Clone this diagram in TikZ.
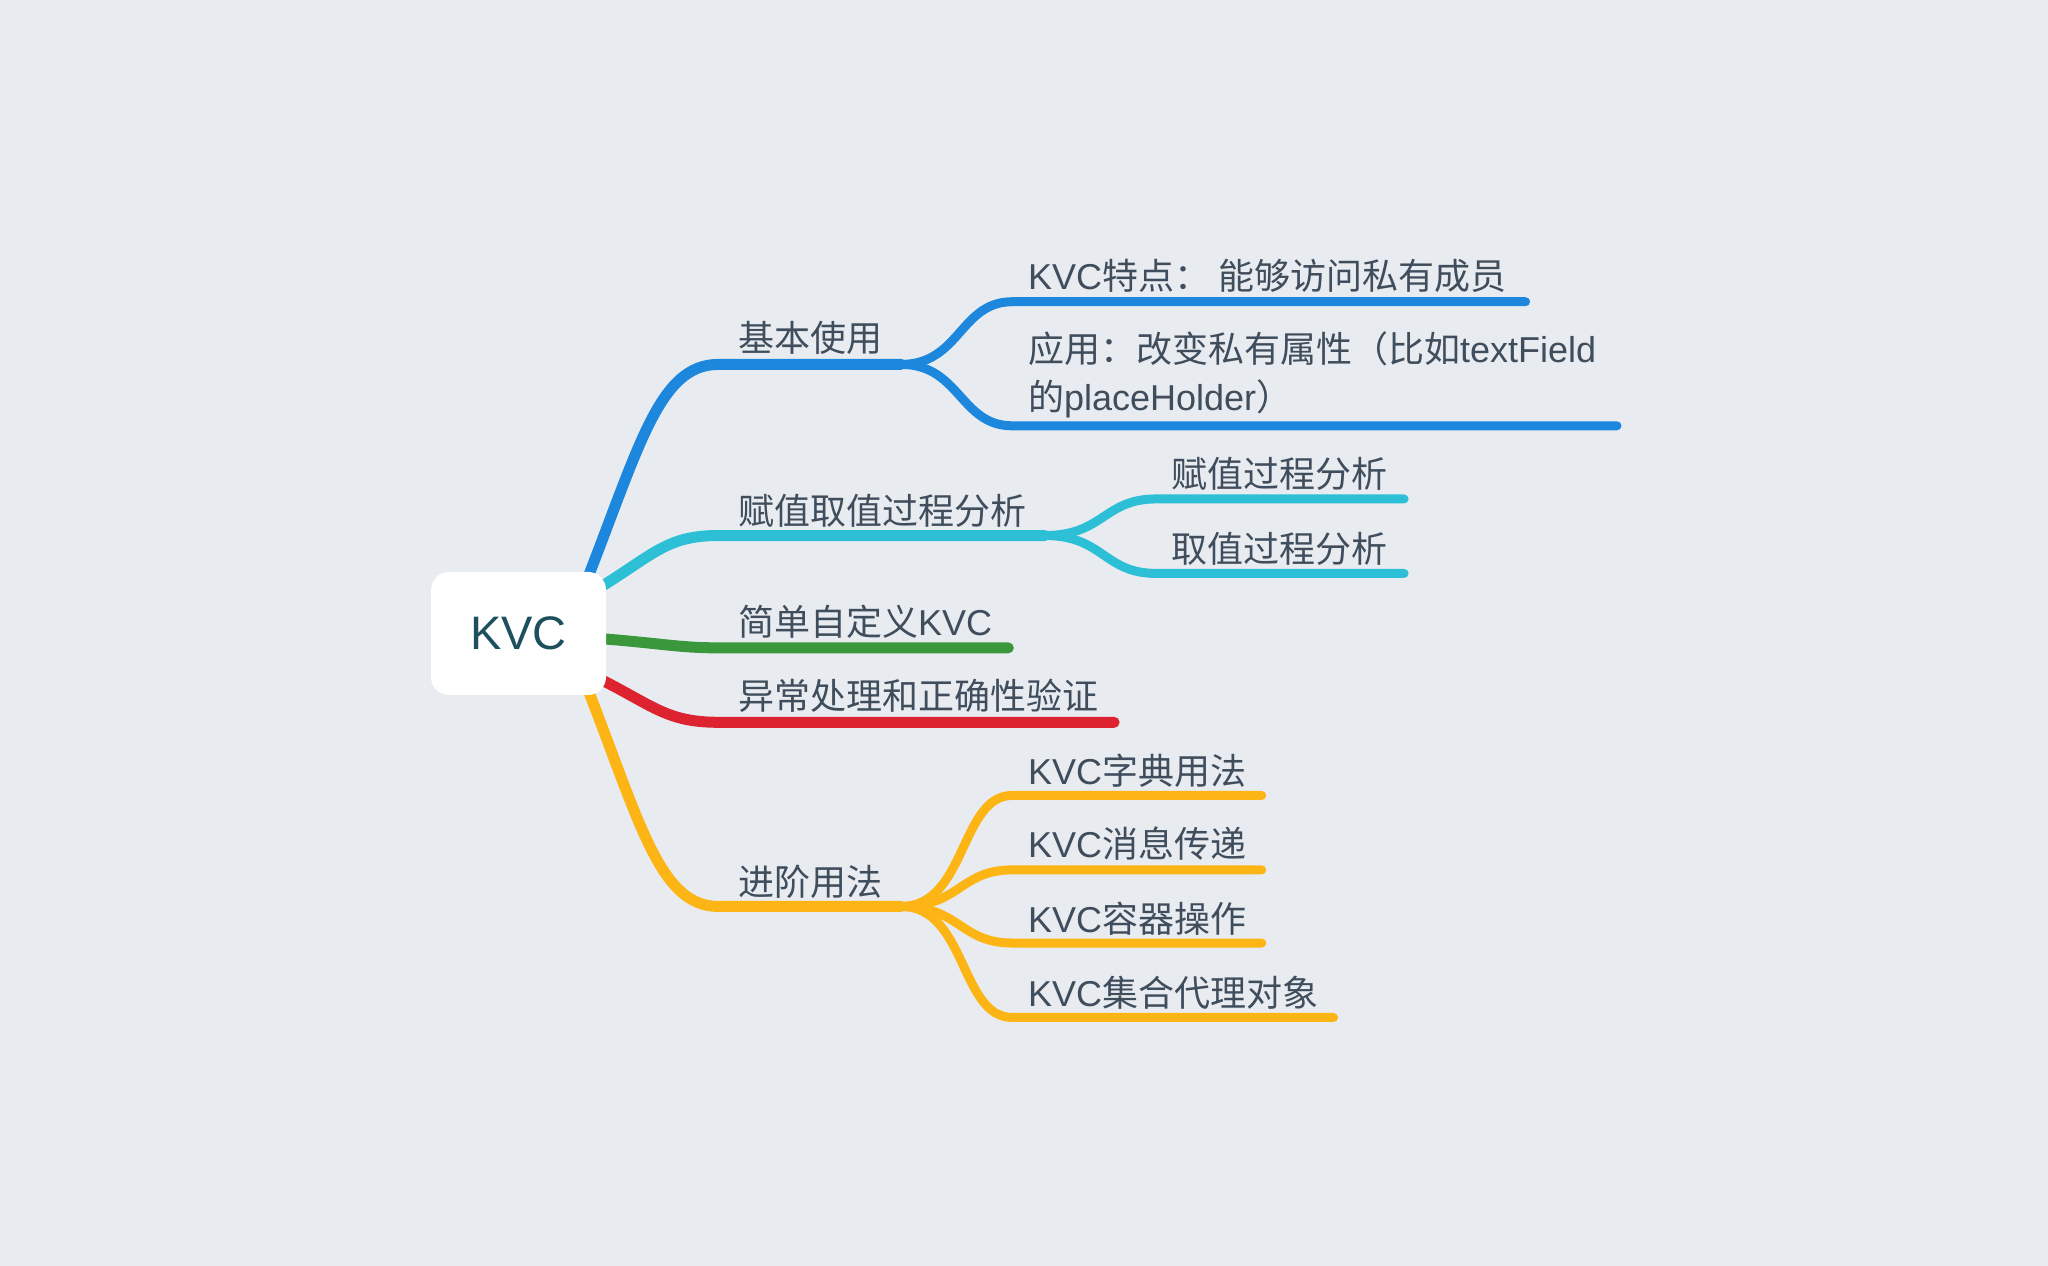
\documentclass[tikz,border=0pt]{standalone}
\usepackage{fontspec}
\setmainfont{Noto Sans CJK SC}
\newfontfamily\lat{Liberation Sans}
\pgfdeclarelayer{back}
\pgfsetlayers{back,main}
\definecolor{bgc}{HTML}{E8ECF0}
\definecolor{txt}{HTML}{3F4D5C}
\definecolor{roottxt}{HTML}{1D4F5E}
\definecolor{cblue}{HTML}{1C87DD}
\definecolor{ccyan}{HTML}{2DBFD6}
\definecolor{cgreen}{HTML}{3B973B}
\definecolor{cred}{HTML}{DD2230}
\definecolor{cyellow}{HTML}{FDB515}
\tikzset{
  lab/.style={anchor=west,inner sep=0pt,text=txt,font=\fontsize{36}{48}\selectfont,align=left},
  mainln/.style={line width=11pt,line cap=round},
  subln/.style={line width=9pt,line cap=round},
  rootbox/.style={fill=white,rounded corners=18pt,minimum width=175pt,minimum height=123pt,inner sep=0pt,text=roottxt,font=\lat\fontsize{47}{56}\selectfont}
}
\begin{document}
\begin{tikzpicture}[x=1.306pt,y=-1.306pt]
\useasboundingbox (0,0) rectangle (1568,969);
\begin{pgfonlayer}{back}
\fill[bgc] (0,0) rectangle (1568,969);
\end{pgfonlayer}
\node[rootbox] (root) at (397,485) {KVC};
% level 1 coordinates
\coordinate (a1) at (550,279); \coordinate (a2) at (690,279);
\coordinate (b1) at (550,410); \coordinate (b2) at (800,410);
\coordinate (c1) at (550,496); \coordinate (c2) at (772,496);
\coordinate (d1) at (550,553); \coordinate (d2) at (853,553);
\coordinate (e1) at (550,694); \coordinate (e2) at (690,694);
% level 1 labels
\node[lab] (ta) at (565,259) {基本使用};
\node[lab] (tb) at (565,391) {赋值取值过程分析};
\node[lab] (tc) at (565,476) {简单自定义{\lat KVC}};
\node[lab] (td) at (565,533) {异常处理和正确性验证};
\node[lab] (te) at (565,675) {进阶用法};
% level 2 coordinates
\coordinate (a11) at (775,231); \coordinate (a12) at (1168,231);
\coordinate (a21) at (775,326); \coordinate (a22) at (1238,326);
\coordinate (b11) at (885,382); \coordinate (b12) at (1075,382);
\coordinate (b21) at (885,439); \coordinate (b22) at (1075,439);
\coordinate (e11) at (775,609); \coordinate (e12) at (966,609);
\coordinate (e21) at (775,666); \coordinate (e22) at (966,666);
\coordinate (e31) at (775,722); \coordinate (e32) at (966,722);
\coordinate (e41) at (775,779); \coordinate (e42) at (1021,779);
% level 2 labels
\node[lab] (ta1) at (787,211) {{\lat KVC}特点： 能够访问私有成员};
\node[lab] (ta2) at (787,287) {应用：改变私有属性（比如{\lat textField}\\的{\lat placeHolder}）};
\node[lab] (tb1) at (897,363) {赋值过程分析};
\node[lab] (tb2) at (897,420) {取值过程分析};
\node[lab] (te1) at (787,590) {{\lat KVC}字典用法};
\node[lab] (te2) at (787,646) {{\lat KVC}消息传递};
\node[lab] (te3) at (787,703) {{\lat KVC}容器操作};
\node[lab] (te4) at (787,760) {{\lat KVC}集合代理对象};
\begin{pgfonlayer}{back}
% main branches
\draw[mainln,cblue] ([xshift=-20pt,yshift=-10pt]root.north east) .. controls (490,340) and (505,279) .. (a1) -- (a2);
\draw[mainln,ccyan] ([xshift=-10pt,yshift=-18pt]root.north east) .. controls (500,425) and (510,410) .. (b1) -- (b2);
\draw[mainln,cgreen] (root.center) .. controls (500,490) and (510,496) .. (c1) -- (c2);
\draw[mainln,cred] ([xshift=-10pt,yshift=18pt]root.south east) .. controls (500,540) and (510,553) .. (d1) -- (d2);
\draw[mainln,cyellow] ([xshift=-20pt,yshift=10pt]root.south east) .. controls (490,630) and (505,694) .. (e1) -- (e2);
% sub branches
\draw[subln,cblue] (a2) .. controls (735,279) and (735,231) .. (a11) -- (a12);
\draw[subln,cblue] (a2) .. controls (735,279) and (735,326) .. (a21) -- (a22);
\draw[subln,ccyan] (b2) .. controls (845,410) and (845,382) .. (b11) -- (b12);
\draw[subln,ccyan] (b2) .. controls (845,410) and (845,439) .. (b21) -- (b22);
\draw[subln,cyellow] (e2) .. controls (740,694) and (735,609) .. (e11) -- (e12);
\draw[subln,cyellow] (e2) .. controls (735,694) and (735,666) .. (e21) -- (e22);
\draw[subln,cyellow] (e2) .. controls (735,694) and (735,722) .. (e31) -- (e32);
\draw[subln,cyellow] (e2) .. controls (740,694) and (735,779) .. (e41) -- (e42);
\end{pgfonlayer}
\end{tikzpicture}
\end{document}
